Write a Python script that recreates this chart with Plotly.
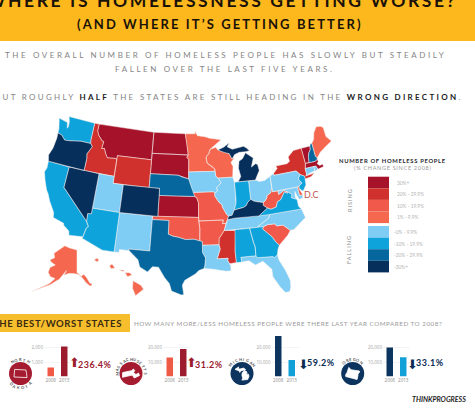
import math
import plotly.graph_objects as go

W, H = 475, 413

legend_labels = ["30%+", "20% - 29.9%", "10% - 19.9%", "1% - 9.9%",
                 "-0% - 9.9%", "-10% - 19.9%", "-20% - 29.9%", "-30%+"]
legend_colors = ["#A5122A", "#D0312D", "#F15A4A", "#F5684F",
                 "#7FCDF5", "#0FA3DC", "#05679E", "#072F5C"]
# states grouped by the legend bin they fall in
state_bins = [
    ["MT", "ND", "SD", "KS", "VT", "MA"],
    ["ID", "WY", "NY", "MS"],
    ["OK", "AR", "MO", "WV", "SC", "DE", "DC"],
    ["MN", "WI", "ME", "AK", "HI"],
    ["UT", "NM", "IA", "IL", "OH", "PA", "TN", "NC", "LA", "FL", "CT", "RI", "MD"],
    ["WA", "CA", "AZ", "IN", "VA", "AL", "GA", "NJ"],
    ["TX", "NE", "NH"],
    ["OR", "NV", "CO", "KY", "MI"],
]

bar_years = ["2008", "2013"]
nd_values = [615, 2069]
ma_values = [13100, 19000]
mi_values = [28000, 11400]
or_values = [20000, 13300]
nd_ticks = [1000, 2000]
other_ticks = [10000, 20000]

# plotly's us topojson lives on a cdn, so state outlines are kept here (lon, lat)
outlines = {
    "WA": [[(-122.76,49),(-117.03,49),(-117.04,46.42),(-116.92,45.99),(-118.98,46),(-119.3,45.93),(-121.2,45.65),(-122.3,45.55),(-122.8,45.9),(-123.2,46.15),(-124.05,46.27),(-124.1,46.9),(-124.7,48.38),(-123.1,48.15),(-122.75,48.1),(-122.45,47.3),(-122.3,47.6),(-122.4,48.3)]],
    "OR": [[(-124.05,46.27),(-123.2,46.15),(-122.8,45.9),(-122.3,45.55),(-121.2,45.65),(-119.3,45.93),(-118.98,46),(-116.92,45.99),(-116.47,45.6),(-116.9,44.9),(-117.22,44.4),(-117.03,43.8),(-117.03,42),(-124.21,42),(-124.55,42.84),(-124.1,44),(-123.95,45.5)]],
    "CA": [[(-124.21,42),(-120,42),(-120,39),(-114.63,35),(-114.13,34.3),(-114.45,34),(-114.72,32.72),(-117.13,32.53),(-117.3,33.1),(-118.4,33.75),(-118.5,34.03),(-119.2,34.15),(-120.5,34.45),(-120.65,35.15),(-121.9,36.6),(-122.5,37.5),(-123,38),(-123.8,39.3),(-124.35,40.4),(-124.1,41)]],
    "NV": [[(-120,42),(-114.04,42),(-114.04,36.2),(-114.7,36.1),(-114.63,35),(-120,39)]],
    "ID": [[(-117.03,49),(-116.05,49),(-116.05,48),(-115.7,47.45),(-114.7,46.7),(-114.35,46.65),(-114.5,45.6),(-113.95,45.7),(-113.45,44.95),(-113,44.45),(-111.5,44.55),(-111.05,44.48),(-111.05,42),(-117.03,42),(-117.03,43.8),(-117.22,44.4),(-116.9,44.9),(-116.47,45.6),(-116.92,45.99),(-117.04,46.42)]],
    "MT": [[(-116.05,49),(-104.05,49),(-104.05,45),(-111.05,45),(-111.05,44.48),(-111.5,44.55),(-113,44.45),(-113.45,44.95),(-113.95,45.7),(-114.5,45.6),(-114.35,46.65),(-114.7,46.7),(-115.7,47.45),(-116.05,48)]],
    "WY": [[(-111.05,45),(-104.05,45),(-104.05,41),(-111.05,41)]],
    "UT": [[(-114.04,42),(-111.05,42),(-111.05,41),(-109.05,41),(-109.05,37),(-114.04,37)]],
    "CO": [[(-109.05,41),(-102.05,41),(-102.05,37),(-109.05,37)]],
    "AZ": [[(-114.04,37),(-109.05,37),(-109.05,31.33),(-111.07,31.33),(-114.81,32.5),(-114.72,32.72),(-114.45,34),(-114.13,34.3),(-114.63,35),(-114.7,36.1),(-114.04,36.2)]],
    "NM": [[(-109.05,37),(-103,37),(-103.05,32),(-106.6,32),(-106.53,31.78),(-108.2,31.78),(-108.2,31.33),(-109.05,31.33)]],
    "ND": [[(-104.05,49),(-97.23,49),(-96.85,47.6),(-96.56,45.94),(-104.05,45.94)]],
    "SD": [[(-104.05,45.94),(-96.56,45.94),(-96.85,45.6),(-96.45,45.3),(-96.45,42.49),(-97.9,42.8),(-98.5,43),(-104.05,43)]],
    "NE": [[(-104.05,43),(-98.5,43),(-97.9,42.8),(-96.45,42.49),(-96.1,41.7),(-95.9,41.2),(-95.3,40),(-102.05,40),(-102.05,41),(-104.05,41)]],
    "KS": [[(-102.05,40),(-95.3,40),(-94.9,39.8),(-94.6,39.1),(-94.62,37),(-102.05,37)]],
    "OK": [[(-103,37),(-94.62,37),(-94.43,35.4),(-94.48,33.64),(-95.5,33.9),(-97,33.85),(-98.1,34.13),(-99.2,34.3),(-100,34.56),(-100,36.5),(-103,36.5)]],
    "TX": [[(-103,36.5),(-100,36.5),(-100,34.56),(-99.2,34.3),(-98.1,34.13),(-97,33.85),(-95.5,33.9),(-94.48,33.64),(-94.04,33.55),(-94.04,31.99),(-93.55,31.2),(-93.7,30.1),(-93.85,29.7),(-94.7,29.4),(-95.3,28.9),(-97,28),(-97.4,27.3),(-97.15,25.96),(-97.5,25.85),(-99.1,26.4),(-99.5,27.5),(-100.3,28.3),(-101.4,29.77),(-102.4,29.77),(-103.15,28.98),(-104.5,29.6),(-104.9,30.6),(-106.53,31.78),(-106.6,32),(-103.05,32)]],
    "LA": [[(-94.04,33.02),(-91.17,33),(-91,32.4),(-91.6,31),(-89.75,31),(-89.85,30.65),(-89.55,30.2),(-89.4,29.9),(-89.4,29.2),(-90.1,29.15),(-91.3,29.35),(-92.3,29.55),(-93.85,29.7),(-93.7,30.1),(-93.55,31.2),(-94.04,31.99)]],
    "AR": [[(-94.62,36.5),(-90.15,36.5),(-90.35,36),(-89.7,36),(-90.1,35),(-90.6,34.5),(-91.1,33.9),(-91.17,33),(-94.04,33.02),(-94.04,33.55),(-94.48,33.64),(-94.43,35.4)]],
    "MO": [[(-95.77,40.58),(-91.73,40.61),(-91.42,40.38),(-91.5,40),(-90.7,39),(-90.2,38.7),(-90.2,38.4),(-89.5,37.3),(-89.15,37),(-89.4,36.5),(-89.7,36),(-90.35,36),(-90.15,36.5),(-94.62,36.5),(-94.62,37),(-94.6,39.1),(-94.9,39.8),(-95.3,40)]],
    "IA": [[(-96.45,43.5),(-91.22,43.5),(-91.1,42.75),(-90.64,42.51),(-90.15,41.8),(-91.05,41.2),(-90.95,40.7),(-91.42,40.38),(-91.73,40.61),(-95.77,40.58),(-95.9,41.2),(-96.1,41.7),(-96.45,42.49)]],
    "MN": [[(-97.23,49),(-95.15,49),(-95.15,49.38),(-94.6,48.72),(-93,48.55),(-92,48.3),(-89.6,48),(-92,46.7),(-92.3,46.1),(-92.9,45.6),(-92.75,44.75),(-91.9,44.3),(-91.25,43.85),(-91.22,43.5),(-96.45,43.5),(-96.45,45.3),(-96.85,45.6),(-96.56,45.94),(-96.85,47.6)]],
    "WI": [[(-92,46.7),(-90.8,46.95),(-90.4,46.55),(-89.1,46.13),(-88.1,45.9),(-87.6,45.1),(-87.1,45.25),(-87.9,44.6),(-87.55,44),(-87.8,42.5),(-90.64,42.51),(-91.1,42.75),(-91.22,43.5),(-91.25,43.85),(-91.9,44.3),(-92.75,44.75),(-92.9,45.6),(-92.3,46.1)]],
    "IL": [[(-90.64,42.51),(-87.8,42.5),(-87.53,41.71),(-87.53,39.35),(-87.6,38.7),(-88.05,37.8),(-88.5,37.1),(-89.15,37),(-89.5,37.3),(-90.2,38.4),(-90.2,38.7),(-90.7,39),(-91.5,40),(-91.42,40.38),(-90.95,40.7),(-91.05,41.2),(-90.15,41.8)]],
    "IN": [[(-87.53,41.71),(-87.2,41.76),(-84.8,41.76),(-84.82,39.1),(-85.4,38.73),(-85.75,38.27),(-86.3,38.05),(-86.8,37.95),(-87.5,37.9),(-88.05,37.8),(-87.6,38.7),(-87.53,39.35)]],
    "OH": [[(-84.8,41.7),(-83.45,41.73),(-82.7,41.45),(-81.7,41.5),(-80.52,41.98),(-80.52,40.64),(-80.6,40.3),(-80.87,39.65),(-81.75,39.27),(-81.75,39),(-82.2,38.6),(-82.6,38.42),(-83.65,38.63),(-84.3,38.8),(-84.82,39.1)]],
    "KY": [[(-89.4,36.5),(-89.15,37),(-88.5,37.1),(-88.05,37.8),(-87.5,37.9),(-86.8,37.95),(-86.3,38.05),(-85.75,38.27),(-85.4,38.73),(-84.82,39.1),(-84.3,38.8),(-83.65,38.63),(-82.6,38.42),(-82.6,38),(-81.97,37.54),(-83.68,36.6),(-88.07,36.65)]],
    "TN": [[(-90.1,35),(-89.7,36),(-89.4,36.5),(-88.07,36.65),(-83.68,36.6),(-81.68,36.59),(-82,36.1),(-84.32,35)]],
    "MS": [[(-90.1,35),(-88.2,35),(-88.1,34.9),(-88.47,31.9),(-88.4,30.3),(-89.55,30.2),(-89.85,30.65),(-89.75,31),(-91.6,31),(-91,32.4),(-91.17,33),(-91.1,33.9),(-90.6,34.5)]],
    "AL": [[(-88.2,35),(-85.6,35),(-85.18,32.87),(-85,32.3),(-85.05,31),(-87.6,31),(-87.52,30.3),(-88.4,30.3),(-88.47,31.9),(-88.1,34.9)]],
    "GA": [[(-85.6,35),(-83.1,35),(-83.35,34.7),(-82.6,34),(-81.9,33.4),(-81.4,32.6),(-80.87,32.03),(-81.2,31.5),(-81.45,30.72),(-82.05,30.37),(-82.2,30.57),(-84.86,30.7),(-85.05,31),(-85,32.3),(-85.18,32.87)]],
    "FL": [[(-87.6,31),(-85.05,31),(-84.86,30.7),(-82.2,30.57),(-82.05,30.37),(-81.45,30.72),(-81.3,29.9),(-80.55,28.4),(-80.03,26.8),(-80.13,25.8),(-80.4,25.2),(-81.1,25.15),(-81.8,26.1),(-82.7,27.7),(-82.7,28.8),(-83.4,29.6),(-84,30.1),(-85.3,29.68),(-86.3,30.4),(-87.52,30.3)]],
    "SC": [[(-83.1,35),(-82.35,35.2),(-81.05,35.15),(-80.8,34.82),(-79.67,34.8),(-78.55,33.86),(-79.2,33.2),(-80,32.6),(-80.87,32.03),(-81.4,32.6),(-81.9,33.4),(-82.6,34),(-83.35,34.7)]],
    "NC": [[(-84.32,35),(-82,36.1),(-81.68,36.59),(-75.87,36.55),(-75.5,35.25),(-76.5,34.65),(-77.9,33.9),(-78.55,33.86),(-79.67,34.8),(-80.8,34.82),(-81.05,35.15),(-82.35,35.2),(-83.1,35)]],
    "VA": [[(-83.68,36.6),(-81.97,37.54),(-81.3,37.3),(-80.3,37.5),(-79.95,38.2),(-79.3,38.4),(-78.35,39.4),(-77.83,39.13),(-77.72,39.32),(-77.05,38.85),(-77.3,38.4),(-76.3,38),(-76.3,37),(-75.87,36.55),(-81.68,36.59)]],
    "WV": [[(-82.6,38.42),(-82.2,38.6),(-81.75,39),(-81.75,39.27),(-80.87,39.65),(-80.6,40.3),(-80.52,40.64),(-80.52,39.72),(-79.48,39.72),(-79.48,39.2),(-78.4,39.62),(-77.72,39.32),(-77.83,39.13),(-78.35,39.4),(-79.3,38.4),(-79.95,38.2),(-80.3,37.5),(-81.3,37.3),(-81.97,37.54),(-82.6,38)]],
    "PA": [[(-80.52,41.98),(-79.76,42.27),(-79.76,42),(-75.35,42),(-74.7,41.36),(-75.13,40.98),(-75.2,40.68),(-74.72,40.15),(-75.4,39.8),(-75.79,39.72),(-80.52,39.72),(-80.52,40.64)]],
    "NY": [[(-79.76,42),(-79.76,42.27),(-78.9,42.9),(-79.05,43.27),(-76.8,43.3),(-76.2,43.55),(-76.3,44.2),(-75,44.95),(-73.35,45),(-73.25,43.6),(-73.25,42.75),(-73.5,42.05),(-73.5,41.3),(-73.65,41),(-72,41.1),(-72.8,40.7),(-74,40.6),(-73.95,41),(-74.7,41.36),(-75.35,42)]],
    "NJ": [[(-74.7,41.36),(-73.95,41),(-74,40.45),(-74.1,39.75),(-74.9,38.95),(-75.5,39.5),(-75.4,39.8),(-74.72,40.15),(-75.2,40.68),(-75.13,40.98)]],
    "DE": [[(-75.79,39.72),(-75.4,39.8),(-75.5,39.4),(-75.05,38.45),(-75.7,38.46)]],
    "MD": [[(-79.48,39.72),(-75.79,39.72),(-75.7,38.46),(-75.05,38.45),(-75.25,38.03),(-75.9,37.95),(-76.2,38.6),(-76.4,39.2),(-76.55,38.4),(-76.3,38),(-77.3,38.4),(-77.05,38.85),(-77.72,39.32),(-78.4,39.62),(-79.48,39.2)]],
    "DC": [[(-77.2,38.95),(-77.04,39.05),(-76.85,38.89),(-77.04,38.75)]],
    "CT": [[(-73.5,42.05),(-71.8,42.02),(-71.8,41.4),(-72.9,41.25),(-73.65,41),(-73.5,41.3)]],
    "RI": [[(-71.8,42.02),(-71.38,42.02),(-71.15,41.5),(-71.8,41.35)]],
    "MA": [[(-73.5,42.05),(-73.25,42.75),(-71.3,42.7),(-70.8,42.87),(-70.65,42.6),(-71,42.3),(-70.6,41.95),(-70,42.05),(-69.95,41.65),(-70.65,41.55),(-71.15,41.5),(-71.38,42.02),(-71.8,42.02)]],
    "VT": [[(-73.35,45),(-71.5,45),(-71.6,44.5),(-72.05,44.1),(-72.35,43.5),(-72.46,42.73),(-73.25,42.75),(-73.25,43.6)]],
    "NH": [[(-71.5,45),(-71.3,45.3),(-71,45.3),(-70.98,43.4),(-70.7,43.08),(-70.8,42.87),(-71.3,42.7),(-72.46,42.73),(-72.35,43.5),(-72.05,44.1),(-71.6,44.5)]],
    "ME": [[(-71,45.3),(-70.4,45.8),(-70,46.7),(-69.2,47.45),(-68.3,47.35),(-67.8,47.07),(-67.8,45.7),(-67.45,45.3),(-67,44.85),(-68.5,44.3),(-69.8,43.75),(-70.7,43.08),(-70.98,43.4)]],
    "MI": [[(-86.82,41.76),(-84.8,41.76),(-83.45,41.73),(-83.1,42.2),(-82.45,43),(-82.6,43.9),(-83,44.05),(-83.9,43.65),(-83.3,44.9),(-84.75,45.78),(-85.5,45),(-86.25,44.7),(-86.5,43.7),(-86.2,42.5)],
           [(-90.4,46.55),(-89.1,46.9),(-87.9,47.47),(-88.4,46.9),(-87.4,46.5),(-85,46.75),(-84.4,46.45),(-83.9,46),(-84.75,45.95),(-86,45.95),(-87,45.7),(-87.6,45.1),(-88.1,45.9),(-89.1,46.13)]],
    "AK": [[(-141,69.65),(-141,60.3),(-139.5,59.9),(-137.5,58.9),(-135.5,59.7),(-133.5,58.4),(-131.5,56),(-130,55.9),(-130.5,55),(-132,55),(-134.5,56.3),(-136.5,58),(-139.5,59.6),(-144,60),(-148,60),(-151.5,59.3),(-150,61.2),(-153,59),(-154.5,57.7),(-157,56.8),(-160,55.5),(-163.5,54.7),(-172,52.5),(-163.5,55.2),(-161,56),(-158,58),(-162,58.7),(-165,60.5),(-165,62.5),(-161,63.5),(-165,64.5),(-168,65.6),(-164,66.5),(-166.5,68.3),(-160,70.3),(-156.6,71.35),(-150,70.5)]],
    "HI": [[(-159.78,22.05),(-159.55,22.2),(-159.3,22.1),(-159.45,21.88)],
           [(-158.25,21.55),(-158,21.7),(-157.7,21.35),(-158.1,21.3)],
           [(-157.3,21.2),(-156.75,21.15),(-156.9,21.05)],
           [(-156.7,20.95),(-156.25,20.95),(-156,20.75),(-156.45,20.6)],
           [(-155.9,20.25),(-155.1,19.85),(-154.85,19.5),(-155.65,18.95),(-155.95,19.6)]],
}


def albers(lon, lat):
    # standard us albers, km from -96 / 37.5
    p1, p2, lat0 = map(math.radians, (29.5, 45.5, 37.5))
    n = (math.sin(p1) + math.sin(p2)) / 2
    c = math.cos(p1) ** 2 + 2 * n * math.sin(p1)
    rho = 6371 * math.sqrt(c - 2 * n * math.sin(math.radians(lat))) / n
    rho0 = 6371 * math.sqrt(c - 2 * n * math.sin(lat0)) / n
    th = n * math.radians(lon + 96)
    return rho * math.sin(th), rho0 - rho * math.cos(th)


def to_map(state, lon, lat):
    if state == "AK":
        return (77 + (lon + 141) * math.cos(math.radians(lat)) * 2.44, 250 + (69.65 - lat) * 2.44)
    if state == "HI":
        return (97 + (lon + 159.5) * 10, 260 + (22.05 - lat) * 11.5)
    x, y = albers(lon, lat)
    return 191 + x * 0.0625, 214 - y * 0.0625


def ring_xy(state):
    xs, ys = [], []
    for ring in outlines[state]:
        for lon, lat in ring + ring[:1]:
            x, y = to_map(state, lon, lat)
            xs.append(x)
            ys.append(y)
        xs.append(None)
        ys.append(None)
    return xs, ys


def badge_xy(state, cx, cy, width):
    xs, ys = ring_xy(state)
    vx = [v for v in xs if v is not None]
    vy = [v for v in ys if v is not None]
    k = width / (max(vx) - min(vx))
    mx, my = (max(vx) + min(vx)) / 2, (max(vy) + min(vy)) / 2
    return ([None if v is None else cx + (v - mx) * k for v in xs],
            [None if v is None else cy + (v - my) * k for v in ys])


def px(x):
    return x / W


def py(y):
    return 1 - y / H


def note(x, y, text, size, color, bold=False, spacing=0, anchor="center", angle=0, font="Lato"):
    if bold:
        text = "<b>" + text + "</b>"
    if spacing:
        text = '<span style="letter-spacing:%spx">%s</span>' % (spacing, text)
    return dict(x=px(x), y=py(y), xref="paper", yref="paper", text=text, showarrow=False,
                xanchor=anchor, yanchor="middle", textangle=angle,
                font=dict(size=size, color=color, family=font))


def arc_text(cx, cy, r, text, mid, step, color):
    # letters around a badge, mid is the angle of the middle letter
    out = []
    top = math.sin(math.radians(mid)) > 0
    n = len(text)
    for i, ch in enumerate(text):
        off = (i - (n - 1) / 2) * step
        a = mid - off if top else mid + off
        ax = cx + r * math.cos(math.radians(a))
        ay = cy - r * math.sin(math.radians(a))
        rot = 90 - a if top else 270 - a
        out.append(note(ax, ay, ch, 4, color, bold=True, angle=rot))
    return out


fig = go.Figure()

# map and badges share a full-page axis pair in page pixels
for group, color in zip(state_bins, legend_colors):
    xs, ys = [], []
    for st in group:
        sx, sy = ring_xy(st)
        xs += sx
        ys += sy
    fig.add_trace(go.Scatter(x=xs, y=ys, mode="lines", fill="toself", fillcolor=color,
                             line=dict(color="#f6f3f1", width=0.5), hoverinfo="skip",
                             xaxis="x5", yaxis="y5"))

badge_y = 373.5
for st, cx, w, fill_col in [("ND", 20.5, 13, "#A51C30"), ("MA", 131, 17, "#ffffff"),
                            ("MI", 242, 14, "#ffffff"), ("OR", 352.7, 14, "#ffffff")]:
    bx, by = badge_xy(st, cx, badge_y, w)
    fig.add_trace(go.Scatter(x=bx, y=by, mode="lines", fill="toself", fillcolor=fill_col,
                             line=dict(color="#ffffff", width=0.8), hoverinfo="skip",
                             xaxis="x5", yaxis="y5"))

# the four little bar charts
bar_sets = [
    (nd_values, nd_ticks, 57.5, ["#EE5A45", "#9C1B2E"]),
    (ma_values, other_ticks, 176.5, ["#EE5A45", "#9C1B2E"]),
    (mi_values, other_ticks, 285, ["#0B345F", "#12A0D9"]),
    (or_values, other_ticks, 396.5, ["#0B345F", "#12A0D9"]),
]
axes = {
    "xaxis5": dict(domain=[0, 1], range=[0, W], visible=False, anchor="y5"),
    "yaxis5": dict(domain=[0, 1], range=[H, 0], visible=False, anchor="x5"),
}
for i, (vals, ticks, mid, cols) in enumerate(bar_sets):
    n = i + 1
    fig.add_trace(go.Bar(x=bar_years, y=vals, marker=dict(color=cols, line_width=0),
                         xaxis="x%d" % n, yaxis="y%d" % n, showlegend=False))
    axes["xaxis%d" % n] = dict(domain=[px(mid - 13.5), px(mid + 13.5)], anchor="y%d" % n,
                               type="category", tickfont=dict(size=4.5, color="#8a8a8a"),
                               showgrid=False, zeroline=False, showline=False, ticklen=0)
    axes["yaxis%d" % n] = dict(domain=[py(376.5), py(334)], anchor="x%d" % n,
                               range=[0, ticks[0] * 42.5 / 14.5], tickvals=ticks, tickformat=",",
                               tickfont=dict(size=4.5, color="#a5a5a5"), showgrid=True,
                               gridcolor="#f4f4f4", zeroline=False, showline=False, ticklen=0)
fig.update_layout(**axes, bargap=0.52)

shapes = [
    dict(type="rect", xref="paper", yref="paper", x0=0, x1=1, y0=py(41), y1=1,
         fillcolor="#FDB81E", line_width=0, layer="below"),
    dict(type="rect", xref="paper", yref="paper", x0=0, x1=px(130), y0=py(332), y1=py(314),
         fillcolor="#F6BE2C", line_width=0, layer="below"),
]
for i, c in enumerate(legend_colors):
    top = 176.7 + i * 11.6 if i < 4 else 226 + (i - 4) * 11.6
    shapes.append(dict(type="rect", xref="paper", yref="paper", x0=px(368), x1=px(389),
                       y0=py(top + 11.6), y1=py(top), fillcolor=c, line_width=0))
for cx, c in [(20.5, "#A51C30"), (131, "#A51C30"), (242, "#0C345F"), (352.7, "#0C345F")]:
    shapes.append(dict(type="circle", xref="paper", yref="paper", x0=px(cx - 11.5), x1=px(cx + 11.5),
                       y0=py(badge_y + 11.5), y1=py(badge_y - 11.5), fillcolor=c, line_width=0,
                       layer="below"))

notes = [
    note(222, 0.5, "WHERE IS HOMELESSNESS GETTING WORSE?", 17.5, "#1a1208", True, 2.6),
    note(219.5, 24, "(AND WHERE IT’S GETTING BETTER)", 13, "#1a1208", True, 2.1),
    note(225, 55, "THE OVERALL NUMBER OF HOMELESS PEOPLE HAS SLOWLY BUT STEADILY", 8, "#858585", False, 2.6),
    note(224, 69, "FALLEN OVER THE LAST FIVE YEARS.", 8, "#858585", False, 2.6),
    note(228.5, 97, "BUT ROUGHLY <b style='color:#222'>HALF</b> THE STATES ARE STILL HEADING IN THE "
                    "<b style='color:#222'>WRONG DIRECTION</b>.", 8, "#858585", False, 2.3),
    note(392, 160, "NUMBER OF HOMELESS PEOPLE", 5.8, "#26262e", True, 0.7),
    note(393, 168, "(% CHANGE SINCE 2008)", 5.5, "#9a9a9a", False, 0.7),
    note(350, 200, "RISING", 5.5, "#8a8a8a", False, 1, angle=-90),
    note(349, 250, "FALLING", 5.5, "#8a8a8a", False, 1, angle=-90),
    note(311, 194, "D.C", 9, "#C0564F"),
    note(57, 323, "THE BEST/WORST STATES", 9.5, "#3a2a10", True, 0.6),
    note(288, 323, "HOW MANY MORE/LESS HOMELESS PEOPLE WERE THERE LAST YEAR COMPARED TO 2008?", 6.3, "#9a9a9a", False, 0.5),
    note(74, 362, "⬆", 13, "#9C1B2E", font="DejaVu Sans"),
    note(95, 364, "236.4%", 9, "#9C1B2E", True, 0.5),
    note(191, 362, "⬆", 13, "#9C1B2E", font="DejaVu Sans"),
    note(208.5, 364, "31.2%", 9, "#9C1B2E", True, 0.5),
    note(303, 364.5, "⬇", 13, "#0B2E55", font="DejaVu Sans"),
    note(321, 362, "59.2%", 9, "#0B2E55", True, 0.5),
    note(412.5, 364.5, "⬇", 13, "#0B2E55", font="DejaVu Sans"),
    note(430, 362, "33.1%", 9, "#0B2E55", True, 0.5),
    note(439, 399, "<i>THINKPROGRESS</i>", 7, "#222222", True),
]
for i, lab in enumerate(legend_labels):
    top = 176.7 + i * 11.6 if i < 4 else 226 + (i - 4) * 11.6
    notes.append(note(395 if i < 4 else 392, top + 6, lab, 4.8, "#b5b5b5", anchor="left"))

notes += arc_text(20.5, badge_y, 14, "NORTH", 90, 17, "#555555")
notes += arc_text(20.5, badge_y, 14, "DAKOTA", 270, 17, "#555555")
notes += arc_text(131, badge_y, 14, "MASSACHUSETTS", 90, 15, "#555555")
notes += arc_text(242, badge_y, 14, "MICHIGAN", 90, 15, "#555555")
notes += arc_text(352.7, badge_y, 14, "OREGON", 90, 15, "#555555")

fig.update_layout(width=W, height=H, margin=dict(l=0, r=0, t=0, b=0), paper_bgcolor="white",
                  plot_bgcolor="rgba(0,0,0,0)", shapes=shapes, annotations=notes, showlegend=False)

fig.write_html("out.html", config=dict(displayModeBar=False),
               post_script="document.body.style.margin='0';")
